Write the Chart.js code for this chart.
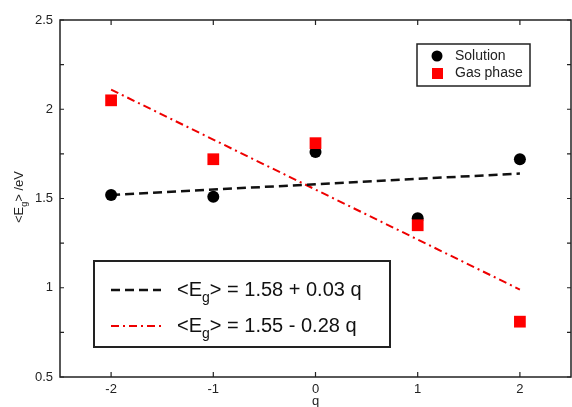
<!DOCTYPE html>
<html>
<head>
<meta charset="utf-8">
<script src="https://cdn.jsdelivr.net/npm/chart.js@4.4.0/dist/chart.umd.min.js"></script>
<style>
  html, body { margin: 0; padding: 0; background: #fff; }
  #wrap { width: 572px; height: 407px; }
</style>
</head>
<body>
<div id="wrap"><canvas id="chart" width="572" height="407"></canvas></div>
<script>
// valeurs
const qValues = [-2, -1, 0, 1, 2];
const solution = [1.52, 1.51, 1.76, 1.39, 1.72];
const gasPhase = [2.05, 1.72, 1.81, 1.35, 0.81];
const fitQ = [-2, 2];
const fitSolution = [1.52, 1.64];
const fitGas = [2.11, 0.99];
const xTicks = [-2, -1, 0, 1, 2];
const yTicks = [0.5, 1, 1.5, 2, 2.5];
const yMinorTicks = [0.75, 1.25, 1.75, 2.25];
const fitLabels = ['1.58 + 0.03 q', '1.55 - 0.28 q'];

const FONT = 'Liberation Sans, Arial, sans-serif';

function toPoints(xs, ys) {
    return xs.map((x, i) => ({ x: x, y: ys[i] }));
}

// texte <Eg> avec indice
function drawEg(ctx, x, y, size, rest) {
    ctx.font = size + 'px ' + FONT;
    ctx.textBaseline = 'middle';
    ctx.textAlign = 'left';
    ctx.fillText('<E', x, y);
    let w = ctx.measureText('<E').width;
    ctx.font = Math.round(size * 0.7) + 'px ' + FONT;
    ctx.fillText('g', x + w, y + size * 0.4);
    w += ctx.measureText('g').width;
    ctx.font = size + 'px ' + FONT;
    ctx.fillText('>' + rest, x + w, y);
}

const decorPlugin = {
    id: 'decor',
    afterDraw(chart) {
        const ctx = chart.ctx;
        const a = chart.chartArea;
        const xs = chart.scales.x;
        const ys = chart.scales.y;
        ctx.save();
        ctx.strokeStyle = '#222';
        ctx.lineWidth = 1.5;
        ctx.setLineDash([]);
        ctx.strokeRect(a.left, a.top, a.right - a.left, a.bottom - a.top);

        // graduations vers l'intérieur
        ctx.lineWidth = 1.2;
        ctx.beginPath();
        xTicks.forEach(v => {
            const px = xs.getPixelForValue(v);
            ctx.moveTo(px, a.bottom); ctx.lineTo(px, a.bottom - 5);
            ctx.moveTo(px, a.top); ctx.lineTo(px, a.top + 5);
        });
        yTicks.concat(yMinorTicks).forEach(v => {
            const py = ys.getPixelForValue(v);
            ctx.moveTo(a.left, py); ctx.lineTo(a.left + 4, py);
            ctx.moveTo(a.right, py); ctx.lineTo(a.right - 4, py);
        });
        ctx.stroke();

        // titres des axes
        ctx.fillStyle = '#222';
        ctx.font = '13px ' + FONT;
        ctx.textAlign = 'center';
        ctx.textBaseline = 'middle';
        ctx.fillText('q', xs.getPixelForValue(0), 401);
        ctx.save();
        ctx.translate(19, 196);
        ctx.rotate(-Math.PI / 2);
        drawEg(ctx, -27, 0, 13, ' /eV');
        ctx.restore();

        // légende des points
        ctx.lineWidth = 1.5;
        ctx.strokeStyle = '#222';
        ctx.strokeRect(417, 44, 113, 42);
        ctx.fillStyle = '#000';
        ctx.beginPath();
        ctx.arc(437, 56, 5.5, 0, Math.PI * 2);
        ctx.fill();
        ctx.fillStyle = '#ff0000';
        ctx.fillRect(432, 68, 11, 11);
        ctx.fillStyle = '#222';
        ctx.font = '14px ' + FONT;
        ctx.textAlign = 'left';
        ctx.fillText('Solution', 455, 56);
        ctx.fillText('Gas phase', 455, 73);

        // légende des droites
        ctx.lineWidth = 2;
        ctx.strokeRect(94, 261, 296, 86);
        ctx.lineWidth = 2.5;
        ctx.strokeStyle = '#111';
        ctx.setLineDash([9, 5]);
        ctx.beginPath();
        ctx.moveTo(111, 290); ctx.lineTo(161, 290);
        ctx.stroke();
        ctx.strokeStyle = '#ee0000';
        ctx.lineWidth = 2;
        ctx.setLineDash([8, 4, 2, 4]);
        ctx.beginPath();
        ctx.moveTo(111, 326); ctx.lineTo(161, 326);
        ctx.stroke();
        ctx.setLineDash([]);
        ctx.fillStyle = '#111';
        drawEg(ctx, 177, 290, 20, ' = ' + fitLabels[0]);
        drawEg(ctx, 177, 326, 20, ' = ' + fitLabels[1]);
        ctx.restore();
    }
};

// l'indice 0 est dessiné en dernier (au-dessus)
const ctx = document.getElementById('chart').getContext('2d');
const chart = new Chart(ctx, {
    type: 'scatter',
    data: {
        datasets: [
            {
                label: 'Gas phase',
                data: toPoints(qValues, gasPhase),
                pointStyle: 'rect',
                pointRadius: 8.3,
                backgroundColor: '#ff0000',
                borderColor: '#ff0000',
                borderWidth: 0
            },
            {
                label: 'Solution',
                data: toPoints(qValues, solution),
                pointStyle: 'circle',
                pointRadius: 6,
                backgroundColor: '#000',
                borderColor: '#000',
                borderWidth: 0
            },
            {
                label: 'fit solution',
                type: 'line',
                data: toPoints(fitQ, fitSolution),
                borderColor: '#111',
                borderWidth: 2.5,
                borderDash: [9, 5],
                pointRadius: 0,
                fill: false
            },
            {
                label: 'fit gas',
                type: 'line',
                data: toPoints(fitQ, fitGas),
                borderColor: '#ee0000',
                borderWidth: 2,
                borderDash: [8, 4, 2, 4],
                pointRadius: 0,
                fill: false
            }
        ]
    },
    options: {
        responsive: false,
        animation: false,
        layout: { autoPadding: false, padding: { top: 20, right: 1, left: 0, bottom: 0 } },
        plugins: {
            legend: { display: false },
            tooltip: { enabled: false }
        },
        scales: {
            x: {
                type: 'linear',
                min: -2.5,
                max: 2.5,
                afterBuildTicks: s => { s.ticks = xTicks.map(v => ({ value: v })); },
                afterFit: s => { s.height = 30; s.paddingLeft = 0; s.paddingRight = 0; },
                grid: { display: false, drawTicks: false },
                border: { display: false },
                ticks: {
                    color: '#222',
                    font: { family: FONT, size: 13 },
                    padding: 5,
                    maxRotation: 0,
                    callback: v => String(v)
                }
            },
            y: {
                type: 'linear',
                min: 0.5,
                max: 2.5,
                afterBuildTicks: s => { s.ticks = yTicks.map(v => ({ value: v })); },
                afterFit: s => { s.width = 60; s.paddingTop = 0; s.paddingBottom = 0; },
                grid: { display: false, drawTicks: false },
                border: { display: false },
                ticks: {
                    color: '#222',
                    font: { family: FONT, size: 13 },
                    padding: 7,
                    callback: v => String(v)
                }
            }
        }
    },
    plugins: [decorPlugin]
});
</script>
</body>
</html>
